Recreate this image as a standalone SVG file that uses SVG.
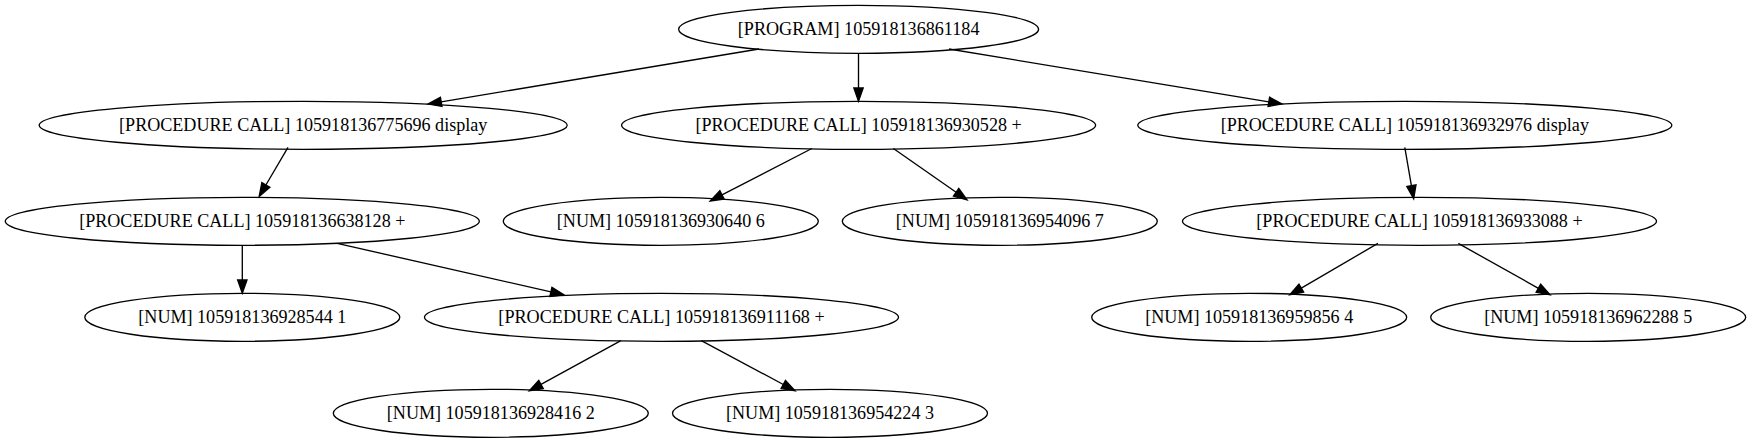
<svg xmlns="http://www.w3.org/2000/svg" width="1751" height="443" viewBox="0 0 1751 443">
<style>
.n ellipse{fill:none;stroke:#000;stroke-width:1.33}
.n text{font-family:"Liberation Serif","Times New Roman",serif;font-size:18.67px;text-anchor:middle;fill:#000}
#edges path{fill:none;stroke:#000;stroke-width:1.33;marker-end:url(#ah)}
</style>
<defs>
<marker id="ah" markerUnits="userSpaceOnUse" markerWidth="16" markerHeight="12" viewBox="-1 -1 16 12" refX="0" refY="4.67" orient="auto" overflow="visible">
<path d="M0,0 L13.33,4.67 L0,9.33 Z" fill="#000" stroke="#000" stroke-width="1.33"/>
</marker>
</defs>
<rect width="1751" height="443" fill="#fff"/>
<g id="edges">
<path d="M759,49 L441.2,101.8"/>
<path d="M858.5,53.3 L858.5,88"/>
<path d="M949,49 L1268.8,101.8"/>
<path d="M288,147.4 L265.9,185"/>
<path d="M811.9,148.5 L722,194.9"/>
<path d="M893.4,148.5 L956.1,192.3"/>
<path d="M1404.8,147.4 L1411.4,185.7"/>
<path d="M242.3,245.3 L242.3,280"/>
<path d="M337.2,243.4 L550.9,291.9"/>
<path d="M620.9,340.6 L541,384.4"/>
<path d="M701.3,340.6 L783.3,384.5"/>
<path d="M1377.9,243.4 L1301.3,288.1"/>
<path d="M1458.3,243.4 L1538.4,288.3"/>
</g>
<g id="root" class="n"><ellipse cx="858.6" cy="29.3" rx="180" ry="24"/><text x="858.6" y="35.3" textLength="241.7" lengthAdjust="spacingAndGlyphs">[PROGRAM] 105918136861184</text></g>
<g id="pc775696" class="n"><ellipse cx="303.2" cy="125.3" rx="264" ry="24"/><text x="303.2" y="131.3" textLength="368.3" lengthAdjust="spacingAndGlyphs">[PROCEDURE CALL] 105918136775696 display</text></g>
<g id="pc930528" class="n"><ellipse cx="858.6" cy="125.3" rx="237" ry="24"/><text x="858.6" y="131.3" textLength="326.3" lengthAdjust="spacingAndGlyphs">[PROCEDURE CALL] 105918136930528 +</text></g>
<g id="pc932976" class="n"><ellipse cx="1404.8" cy="125.3" rx="267" ry="24"/><text x="1404.8" y="131.3" textLength="368.3" lengthAdjust="spacingAndGlyphs">[PROCEDURE CALL] 105918136932976 display</text></g>
<g id="pc638128" class="n"><ellipse cx="242.3" cy="221.3" rx="237" ry="24"/><text x="242.3" y="227.3" textLength="326.3" lengthAdjust="spacingAndGlyphs">[PROCEDURE CALL] 105918136638128 +</text></g>
<g id="num930640" class="n"><ellipse cx="660.8" cy="221.3" rx="157.5" ry="24"/><text x="660.8" y="227.3" textLength="208" lengthAdjust="spacingAndGlyphs">[NUM] 105918136930640 6</text></g>
<g id="num954096" class="n"><ellipse cx="999.8" cy="221.3" rx="157.5" ry="24"/><text x="999.8" y="227.3" textLength="208" lengthAdjust="spacingAndGlyphs">[NUM] 105918136954096 7</text></g>
<g id="pc933088" class="n"><ellipse cx="1419.5" cy="221.3" rx="237" ry="24"/><text x="1419.5" y="227.3" textLength="326.3" lengthAdjust="spacingAndGlyphs">[PROCEDURE CALL] 105918136933088 +</text></g>
<g id="num928544" class="n"><ellipse cx="242.3" cy="317.3" rx="157.5" ry="24"/><text x="242.3" y="323.3" textLength="208" lengthAdjust="spacingAndGlyphs">[NUM] 105918136928544 1</text></g>
<g id="pc911168" class="n"><ellipse cx="661.5" cy="317.3" rx="237" ry="24"/><text x="661.5" y="323.3" textLength="326.3" lengthAdjust="spacingAndGlyphs">[PROCEDURE CALL] 105918136911168 +</text></g>
<g id="num959856" class="n"><ellipse cx="1249.2" cy="317.3" rx="157.5" ry="24"/><text x="1249.2" y="323.3" textLength="208" lengthAdjust="spacingAndGlyphs">[NUM] 105918136959856 4</text></g>
<g id="num962288" class="n"><ellipse cx="1588.2" cy="317.3" rx="157.5" ry="24"/><text x="1588.2" y="323.3" textLength="208" lengthAdjust="spacingAndGlyphs">[NUM] 105918136962288 5</text></g>
<g id="num928416" class="n"><ellipse cx="490.8" cy="413.3" rx="157.5" ry="24"/><text x="490.8" y="419.3" textLength="208" lengthAdjust="spacingAndGlyphs">[NUM] 105918136928416 2</text></g>
<g id="num954224" class="n"><ellipse cx="830" cy="413.3" rx="157.5" ry="24"/><text x="830" y="419.3" textLength="208" lengthAdjust="spacingAndGlyphs">[NUM] 105918136954224 3</text></g>
</svg>
